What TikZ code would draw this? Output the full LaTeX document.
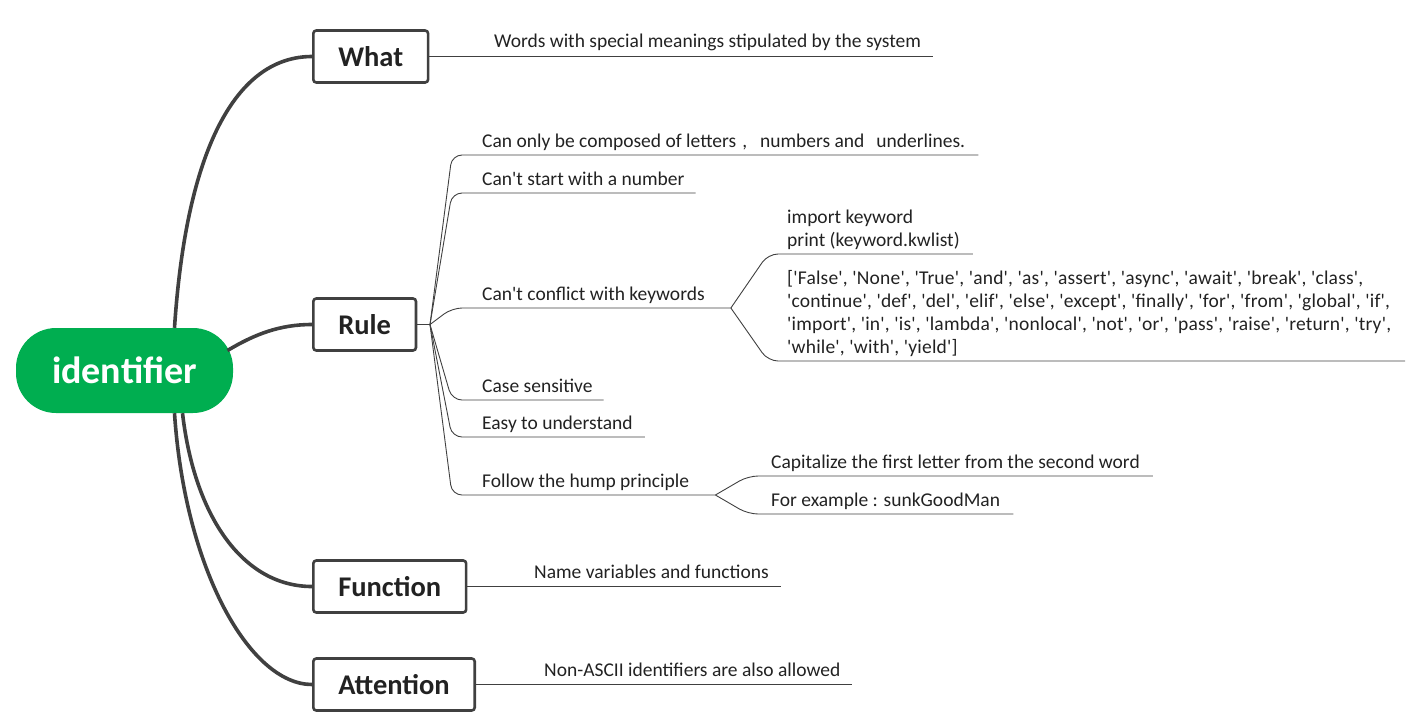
\documentclass[tikz,border=0pt]{standalone}
\usepackage{fontspec}
\setmainfont{Carlito}
\newfontfamily\leaffont{Carlito}
\newfontfamily\listfont{Carlito}[LetterSpace=1]
\usetikzlibrary{calc}
\definecolor{mapgreen}{RGB}{0,174,80}
\definecolor{mapgray}{RGB}{64,64,64}
\definecolor{inkgray}{RGB}{34,34,34}

\begin{document}
\begin{tikzpicture}[x=1pt,y=-1pt,
  root/.style={fill=mapgreen, text=white, font=\fontsize{38}{42}\selectfont\bfseries,
    minimum width=217pt, minimum height=85pt, rounded corners=40pt, inner sep=0pt},
  topic/.style={draw=mapgray, line width=2.6pt, rounded corners=3pt, fill=white,
    text=inkgray, font=\fontsize{28.5}{32}\selectfont\bfseries,
    minimum height=52pt, inner xsep=25pt, anchor=west},
  trunk/.style={draw=mapgray, line width=3.6pt},
  twig/.style={draw=mapgray, line width=0.9pt, rounded corners=10pt},
  leaf/.style={anchor=base west, inner sep=0pt, text=inkgray, align=left,
    font=\leaffont\fontsize{19.5}{23}\selectfont}]
\useasboundingbox (0,0) rectangle (1409,724);

% central topic and main branches
\node[root] (root) at (124.5,370.5) {identifier};
\node[topic] (what) at (312,56.5) {What};
\node[topic] (rule) at (312,324.5) {Rule};
\node[topic] (func) at (312,586.5) {Function};
\node[topic] (attn) at (312,684.5) {Attention};

\draw[trunk] ([xshift=50pt]root.north) .. controls (187,140) and (240,56.5) .. (what.west);
\draw[trunk] ([xshift=103pt,yshift=20pt]root.center) .. controls (255,334) and (280,324.5) .. (rule.west);
\draw[trunk] ([xshift=58pt]root.south) .. controls (195,520) and (245,586.5) .. (func.west);
\draw[trunk] ([xshift=50pt]root.south) .. controls (185,570) and (250,684.5) .. (attn.west);

% What
\node[leaf] (whatnote) at (494,47) {Words with special meanings stipulated by the system};
\draw[twig] (what.east) -- ($(whatnote.base east |- what.east)+(12,0)$);

% Rule
\coordinate (rfork) at (430,324.5);
\draw[twig] (rule.east) -- (rfork);

\node[leaf] (letters) at (482,147) {Can only be composed of letters\hspace{6pt},\hspace{13pt}numbers and\hspace{12pt}underlines.};
\node[leaf] (nostart) at (482,185) {Can't start with a number};
\node[leaf] (nokw) at (482,300) {Can't conflict with keywords};
\node[leaf] (casesens) at (482,392) {Case sensitive};
\node[leaf] (easy) at (482,429) {Easy to understand};
\node[leaf] (hump) at (482,487) {Follow the hump principle};

\draw[twig] (rfork) -- ($(letters.base west)+(-30,8)$) -- ($(letters.base east)+(13,8)$);
\draw[twig] (rfork) -- ($(nostart.base west)+(-30,8)$) -- ($(nostart.base east)+(11,8)$);
\draw[twig] (rfork) -- ($(nokw.base west)+(-30,8)$) -- ($(nokw.base east)+(26,8)$) coordinate (kwfork);
\draw[twig] (rfork) -- ($(casesens.base west)+(-30,8)$) -- ($(casesens.base east)+(11,8)$);
\draw[twig] (rfork) -- ($(easy.base west)+(-30,8)$) -- ($(easy.base east)+(12,8)$);
\draw[twig] (rfork) -- ($(hump.base west)+(-30,8)$) -- ($(hump.base east)+(26,8)$) coordinate (humpfork);

% keywords (base = last line)
\node[leaf] (kwcode) at (787,246) {import keyword\\print (keyword.kwlist)};
\node[leaf, font=\listfont\fontsize{19.5}{22.7}\selectfont] (kwlist) at (787,353) {['False', 'None', 'True', 'and', 'as', 'assert', 'async', 'await', 'break', 'class',\\
'continue', 'def', 'del', 'elif', 'else', 'except', 'finally', 'for', 'from', 'global', 'if',\\
'import', 'in', 'is', 'lambda', 'nonlocal', 'not', 'or', 'pass', 'raise', 'return', 'try',\\
'while', 'with', 'yield']};
\draw[twig] (kwfork) -- ($(kwcode.base west)+(-19,8)$) -- ($(kwcode.base east)+(13,8)$);
\draw[twig] (kwfork) -- ($(kwlist.base west)+(-19,8)$) -- ($(kwlist.base east)+(14,8)$);

% hump principle
\node[leaf] (capital) at (771,468) {Capitalize the first letter from the second word};
\node[leaf] (example) at (771,506) {For example : sunkGoodMan};
\draw[twig] (humpfork) -- ($(capital.base west)+(-23,8)$) -- ($(capital.base east)+(13,8)$);
\draw[twig] (humpfork) -- ($(example.base west)+(-23,8)$) -- ($(example.base east)+(13,8)$);

% Function and Attention
\node[leaf] (funcnote) at (534,578) {Name variables and functions};
\draw[twig] (func.east) -- ($(funcnote.base east |- func.east)+(12,0)$);
\node[leaf] (attnnote) at (544,676) {Non-ASCII identifiers are also allowed};
\draw[twig] (attn.east) -- ($(attnnote.base east |- attn.east)+(11,0)$);
\end{tikzpicture}
\end{document}
